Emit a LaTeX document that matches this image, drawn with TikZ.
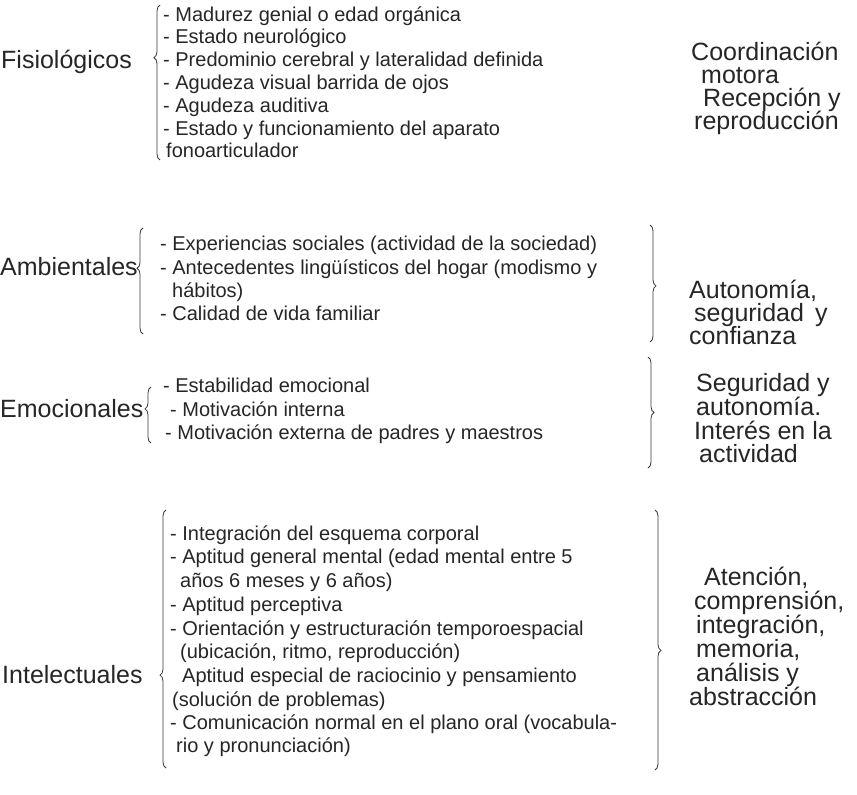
\documentclass[tikz,border=0pt]{standalone}
\usepackage{fontspec}
\setmainfont{Liberation Sans}
\usetikzlibrary{decorations.pathreplacing}
\definecolor{ink}{HTML}{262626}
\definecolor{bracecol}{HTML}{3A3A3A}
\newcommand{\itemfont}{\fontsize{20}{23}\selectfont}
\newcommand{\bigfont}{\fontsize{25}{28}\selectfont}
\tikzset{
  itm/.style={anchor=base west, inner sep=0pt, text=ink, font=\itemfont},
  cat/.style={anchor=base west, inner sep=0pt, text=ink, font=\bigfont},
  res/.style={anchor=base west, inner sep=0pt, text=ink, font=\bigfont},
  brc/.style={draw=bracecol, line width=0.8pt,
    decorate, decoration={brace, amplitude=6pt, aspect=#1}},
}
\begin{document}
\begin{tikzpicture}[x=1pt, y=-1pt]
\useasboundingbox (0,0) rectangle (857,795);
\fill[white] (0,0) rectangle (857,795);

% ---------- Fisiologicos ----------
\node[cat] (fis) at (1,68) {Fisiológicos};
\coordinate (fisT) at (160,5);
\coordinate (fisB) at (160,160);
\draw[brc=0.66] (fisB) -- (fisT);
\node[itm] (f1) at (163,21) {- Madurez genial o edad orgánica};
\node[itm] (f2) at (163,43) {- Estado neurológico};
\node[itm] (f3) at (163,66) {- Predominio cerebral y lateralidad definida};
\node[itm] (f4) at (163,89) {- Agudeza visual barrida de ojos};
\node[itm] (f5) at (163,112) {- Agudeza auditiva};
\node[itm] (f6) at (163,135) {- Estado y funcionamiento del aparato};
\node[itm] (f7) at (166,157) {fonoarticulador};
\node[res] (r11) at (691,60) {Coordinación};
\node[res] (r12) at (701,83) {motora};
\node[res] (r13) at (703,106) {Recepción y};
\node[res] (r14) at (694,129) {reproducción};

% ---------- Ambientales ----------
\node[cat] (amb) at (0,275) {Ambientales};
\coordinate (ambT) at (143,228);
\coordinate (ambB) at (143,334);
\draw[brc=0.62] (ambB) -- (ambT);
\node[itm] (a1) at (160,250) {- Experiencias sociales (actividad de la sociedad)};
\node[itm] (a2) at (160,274) {- Antecedentes lingüísticos del hogar (modismo y};
\node[itm] (a3) at (172,297) {hábitos)};
\node[itm] (a4) at (160,320) {- Calidad de vida familiar};
\coordinate (ambRT) at (650,225);
\coordinate (ambRB) at (650,342);
\draw[brc=0.52] (ambRT) -- (ambRB);
\node[res] (r21) at (689,298) {Autonomía,};
\node[res] (r22) at (694,321) {seguridad\, y};
\node[res] (r23) at (689,344) {confianza};

% ---------- Emocionales ----------
\node[cat] (emo) at (0,417) {Emocionales};
\coordinate (emoT) at (151,387);
\coordinate (emoB) at (151,443);
\draw[brc=0.61] (emoB) -- (emoT);
\node[itm] (e1) at (163,392) {- Estabilidad emocional};
\node[itm] (e2) at (170,416) {- Motivación interna};
\node[itm] (e3) at (165,439) {- Motivación externa de padres y maestros};
\coordinate (emoRT) at (648,357);
\coordinate (emoRB) at (648,468);
\draw[brc=0.5] (emoRT) -- (emoRB);
\node[res] (r31) at (696,391) {Seguridad y};
\node[res] (r32) at (696,415) {autonomía.};
\node[res] (r33) at (694,439) {Interés en la};
\node[res] (r34) at (699,462) {actividad};

% ---------- Intelectuales ----------
\node[cat] (int) at (2,683) {Intelectuales};
\coordinate (intT) at (166,510);
\coordinate (intB) at (166,768);
\draw[brc=0.36] (intB) -- (intT);
\node[itm] (i1) at (170,540) {- Integración del esquema corporal};
\node[itm] (i2) at (170,563) {- Aptitud general mental (edad mental entre 5};
\node[itm] (i3) at (180,587) {años 6 meses y 6 años)};
\node[itm] (i4) at (170,611) {- Aptitud perceptiva};
\node[itm] (i5) at (170,635) {- Orientación y estructuración temporoespacial};
\node[itm] (i6) at (180,658) {(ubicación, ritmo, reproducción)};
\node[itm] (i7) at (182,682) {Aptitud especial de raciocinio y pensamiento};
\node[itm] (i8) at (172,706) {(solución de problemas)};
\node[itm] (i9) at (170,729) {- Comunicación normal en el plano oral (vocabula-};
\node[itm] (i10) at (176,752) {rio y pronunciación)};
\coordinate (intRT) at (655,510);
\coordinate (intRB) at (655,770);
\draw[brc=0.54] (intRT) -- (intRB);
\node[res] (r41) at (704,585) {Atención,};
\node[res] (r42) at (694,609) {comprensión,};
\node[res] (r43) at (696,633) {integración,};
\node[res] (r44) at (696,657) {memoria,};
\node[res] (r45) at (696,681) {análisis y};
\node[res] (r46) at (689,705) {abstracción};
\end{tikzpicture}
\end{document}
